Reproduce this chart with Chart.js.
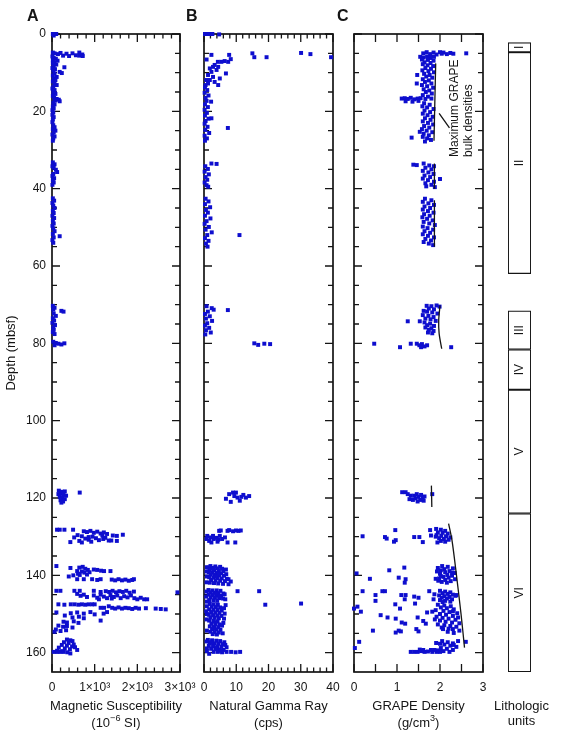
<!DOCTYPE html>
<html>
<head>
<meta charset="utf-8">
<script src="https://cdn.jsdelivr.net/npm/chart.js@4.4.0/dist/chart.umd.min.js"></script>
<style>
  body { margin: 0; background: #fff; }
  #wrap { position: relative; width: 562px; height: 738px; }
  #wrap canvas { position: absolute; left: 0; top: 0; }
</style>
</head>
<body>
<div id="wrap">
  <canvas id="chartA" width="562" height="738"></canvas>
  <canvas id="chartB" width="562" height="738"></canvas>
  <canvas id="chartC" width="562" height="738"></canvas>
  <canvas id="chartL" width="562" height="738"></canvas>
</div>
<script>
// ---- data: [depth (mbsf), value] ----
const magSus = [
  [0,20],[0,60],[0,100],[0.4,40],
  [4.8,20],[5.0,60],[5.2,140],[4.9,200],[5.6,260],[5.1,340],[5.7,400],[5.0,480],[5.5,560],[4.8,640],[5.6,640],[5.3,710],[5.7,720],
  [5.8,10],[6.2,40],[6.4,90],[6.8,20],[6.9,130],[7.3,60],[7.6,20],[7.9,100],[8.3,40],[8.6,290],[8.8,10],[9.1,70],[9.5,30],[9.8,180],[10.1,230],[10.2,60],[10.7,20],[11.1,110],[11.5,40],[11.9,80],[12.3,20],[12.8,60],[13.2,110],[13.6,30],[14.1,10],[14.5,60],[15.0,30],[15.5,80],[16.0,20],[16.5,50],[16.8,110],[17.0,160],[17.2,70],[17.4,180],[17.7,30],[18.2,60],[18.7,20],[19.2,40],[19.7,10],[20.3,30],[20.9,10],[21.5,40],[22.1,20],[22.8,10],[23.6,30],[24.1,60],[24.6,20],[25.0,80],[25.5,40],[26.0,10],[26.5,60],[27.0,30],[27.6,20],
  [33.2,20],[33.7,60],[34.2,10],[34.6,40],[35.1,90],[35.7,120],[36.2,30],[36.7,10],[37.3,50],[37.8,20],[38.4,40],[39.0,10],
  [42.5,20],[43.1,50],[43.7,10],[44.4,30],[45.0,60],[45.7,20],[46.3,40],[47.0,10],[47.6,50],[48.3,20],[49.0,40],[49.6,10],[50.3,30],[51.0,60],[51.7,20],[52.3,180],[52.6,40],[53.3,10],[54.0,30],
  [70.3,20],[70.8,60],[71.3,30],[71.6,220],[71.8,270],[72.3,40],[72.9,90],[73.5,20],[74.1,50],[74.7,10],[75.3,70],[75.9,30],[76.5,40],[77.1,20],[77.6,60],
  [79.6,30],[79.9,90],[80.1,150],[80.3,220],[80.0,290],[80.5,60],
  [118.1,160],[118.4,230],[118.3,300],[118.6,650],[118.9,200],[119.2,270],[119.4,330],[119.7,180],[120.0,240],[120.3,300],[120.6,200],[120.9,260],[121.2,220],[119.0,150],
  [128.2,118],[128.2,181],[128.2,291],[128.2,494],
  [128.6,745],[128.8,820],[128.5,900],[129.0,980],[128.7,1060],[129.2,1140],[128.9,1215],[129.3,1290],
  [129.6,600],[129.9,700],[130.2,520],[130.5,780],[130.8,860],[131.1,640],[131.4,430],[130.0,950],[130.4,1030],[130.9,1100],[131.3,920],[129.7,1180],[130.3,1250],[131.0,1330],[129.7,1425],[129.8,1520],[129.5,1660],[131.0,1390],[131.1,1520],[130.6,1200],[131.5,700],[130.1,860],
  [137.6,103],[138.1,432],[138.9,590],[138.0,640],[137.8,720],[138.3,780],[138.6,840],[139.0,700],[139.3,760],[139.6,610],[139.8,820],[139.2,880],[138.5,980],[138.6,1060],[138.8,1150],[138.9,1220],[138.9,1370],[140.3,393],[139.9,650],[140.0,500],
  [141.0,590],[141.0,745],[141.0,940],[141.2,1060],[141.0,1140],[141.1,1400],[141.3,1480],[141.0,1560],[141.3,1640],[141.1,1720],[141.4,1800],[141.2,1880],[141.0,1920],
  [144.0,103],[144.0,197],[144.0,525],[144.0,650],[144.0,980],[144.3,1140],[144.1,1260],[144.3,1340],[144.0,1420],[144.4,1500],[144.1,1580],[144.3,1660],[144.0,1740],[144.5,1820],[144.2,1920],[144.4,2940],
  [144.8,590],[145.3,670],[145.0,745],[145.6,820],[145.2,980],[145.8,1060],[145.0,1140],[145.5,1215],[145.9,1290],[145.1,1370],[145.6,1450],[145.2,1530],[145.9,1610],[145.4,1690],[145.7,1770],[145.2,1850],[145.9,1930],[146.2,2000],[145.8,2080],[146.2,2160],[146.2,2230],[146.0,1400],[146.2,1100],
  [147.5,150],[147.6,290],[147.5,440],[147.5,530],[147.6,620],[147.5,700],[147.6,780],[147.5,860],[147.5,940],[147.5,1000],[148.4,1140],[148.4,1220],[148.0,1330],[148.4,1410],[148.6,1480],[148.3,1560],[148.6,1640],[148.4,1720],[148.5,1800],[148.7,1880],[148.4,1960],[148.6,2040],[148.5,2200],[148.6,2430],[148.7,2550],[148.8,2665],
  [149.6,103],[149.5,1290],[149.9,1210],[150.4,300],[149.8,440],[149.6,590],[149.9,745],[149.5,900],[150.1,1000],[150.9,480],[150.7,630],[151.1,745],[151.7,1140],[152.0,270],[152.2,350],[151.9,510],[152.3,620],[153.0,150],[153.3,260],[153.1,350],[153.5,480],[154.0,90],[154.4,200],[154.2,330],[154.6,60],
  [156.6,350],[156.8,430],[157.0,480],[157.3,280],[157.5,390],[157.9,510],[158.0,230],[158.2,350],[158.4,470],[158.6,540],[158.7,160],[158.9,300],[159.1,420],[159.3,590],[159.5,120],[159.6,240],[159.8,40],[159.8,118],[159.8,197],[159.8,275],[159.9,360],[160.2,430]
];

const gammaRay = [
  [0,0.3],[0,1.0],[0,1.8],[0,2.6],[0.1,4.7],
  [5.4,2.3],[6.6,0.8],[5.4,7.8],[6.5,8.3],[7.2,7.5],[7.0,6.4],[7.2,5.4],[7.2,4.3],[5.0,15.0],[6.0,15.6],[6.0,19.4],[4.9,30.1],[5.2,33.0],[6.0,39.4],
  [8.0,3.3],[8.5,4.4],[8.5,2.8],[8.9,1.8],[9.3,3.9],[9.8,2.3],[10.2,6.8],[10.6,1.25],[11.1,2.8],[11.5,4.9],[11.9,0.7],[11.9,1.8],[12.4,3.3],[12.8,1.25],[13.2,4.4],[13.2,0.5],
  [13.8,0.3],[14.5,1.0],[15.2,0.2],[15.9,1.4],[16.5,0.5],[17.5,2.2],[17.3,0.8],[18.2,0.3],[18.9,1.2],[19.6,0.2],[20.4,0.9],[21.1,0.3],[21.8,2.3],[21.9,1.4],[22.5,0.5],[23.2,0.2],[24.3,7.4],[24.0,1.1],[24.8,0.4],[25.6,1.6],[26.3,0.2],[27.0,0.9],[27.6,0.3],
  [33.5,2.3],[33.6,3.9],[34.2,0.4],[34.9,1.2],[35.6,0.2],[36.3,1.5],[37.0,0.5],[37.7,1.0],[38.4,0.2],[39.1,0.8],[39.5,1.3],
  [42.6,0.5],[43.3,1.4],[44.0,0.3],[44.8,1.9],[45.5,0.6],[46.2,1.2],[47.0,0.3],[47.7,2.0],[48.4,0.8],[49.1,0.2],[49.9,1.5],[50.6,0.5],[51.3,2.4],[52.0,11.0],[52.0,1.0],[52.8,0.3],[53.5,1.4],[54.2,0.6],[55.0,1.1],
  [70.4,0.8],[70.9,2.4],[71.4,7.4],[71.3,3.0],[71.8,1.2],[72.4,0.3],[73.0,1.8],[73.6,0.6],[74.2,2.5],[74.8,1.0],[75.4,0.3],[76.0,1.6],[76.6,0.6],[77.2,2.1],[77.7,0.4],
  [80.0,15.6],[80.4,16.8],[80.1,18.7],[80.2,20.5],
  [119.0,7.8],[118.6,9.0],[118.6,9.9],[119.9,10.4],[120.7,11.1],[119.2,12.2],[119.9,13.0],[119.5,14.0],[120.2,6.8],[121.0,8.3],[119.5,9.4],[119.7,11.6],
  [128.5,4.7],[128.4,5.2],[128.5,7.3],[128.3,7.8],[128.6,9.0],[128.4,9.9],[128.5,10.7],[128.4,11.4],
  [129.8,1.0],[130.6,0.8],[130.2,2.0],[129.8,2.8],[130.6,3.0],[130.3,3.9],[129.8,4.9],[130.6,5.6],[130.2,6.5],[131.1,1.6],[131.5,2.3],[131.3,4.2],[131.5,7.3],[131.5,9.7],[130.8,4.4],
  [137.6,2.0],[137.7,3.5],[137.8,5.0],[138.0,1.4],[138.1,2.7],[138.2,4.2],[138.3,5.6],[138.6,1.8],[138.7,3.2],[138.8,4.6],[138.9,6.0],[139.2,1.5],[139.3,2.6],[139.4,3.9],[139.5,5.3],[139.8,2.1],[139.9,3.3],[140.0,4.7],[140.1,6.2],[140.5,1.6],[140.6,2.9],[140.7,4.2],[140.8,5.5],[140.9,7.1],[141.2,2.2],[141.3,3.6],[141.4,5.0],[141.5,6.5],[141.6,8.3],[141.9,1.8],[142.0,3.1],[142.1,4.4],[142.2,5.9],[142.3,7.6],
  [137.9,0.9],[138.5,6.8],[139.0,0.8],[139.7,6.9],[140.3,0.9],[141.0,7.6],[141.8,0.8],[139.6,4.5],[140.3,3.7],[138.4,3.0],
  [143.8,1.4],[143.9,2.6],[143.9,3.9],[144.0,5.1],[144.1,10.4],[144.1,17.1],[144.4,2.0],[144.5,3.2],[144.6,4.5],[144.7,6.0],[145.0,1.5],[145.1,2.7],[145.2,4.0],[145.3,5.3],[145.7,2.1],[145.8,3.4],[145.9,4.7],[146.0,5.9],[146.4,1.6],[146.5,2.9],[146.6,4.1],[147.3,30.1],[147.6,19.0],
  [144.2,0.8],[144.9,6.4],[145.5,0.7],[146.2,6.6],[146.8,0.9],[144.8,3.8],[145.5,4.8],
  [147.4,1.8],[147.5,3.0],[147.6,4.3],[147.7,6.7],[148.1,2.4],[148.2,3.7],[148.3,5.0],[148.8,1.6],[148.9,2.9],[149.0,4.2],[149.1,5.5],[149.5,2.2],[149.6,3.5],[149.7,4.8],[150.2,1.5],[150.3,2.8],[150.4,4.1],[150.5,5.4],[150.9,2.0],[151.0,3.3],[151.1,4.6],[151.2,6.2],[151.7,1.6],[151.8,2.9],[151.9,4.2],[152.5,2.3],[152.6,3.6],[152.7,4.9],[153.2,1.8],[153.3,3.1],[153.4,4.4],[153.9,2.5],[154.0,3.8],[154.1,5.1],[154.6,2.0],[154.7,3.3],[154.8,4.6],[155.2,2.7],[155.3,4.0],[150.0,0.9],[148.5,6.2],
  [148.0,0.9],[149.3,0.7],[151.4,0.8],[152.3,6.0],[153.0,5.6],[154.3,0.9],[155.0,5.8],[149.9,6.4],[152.1,3.5],[153.7,3.0],
  [156.7,1.2],[156.8,2.5],[156.9,3.8],[157.0,5.0],[157.3,6.3],[157.5,1.8],[157.6,3.1],[157.7,4.4],[157.8,5.7],[158.2,1.5],[158.3,2.8],[158.4,4.1],[158.5,5.4],[158.6,7.0],[159.0,2.2],[159.1,3.5],[159.2,4.8],[159.3,6.1],[159.8,3.0],[159.8,4.3],[159.9,5.6],[159.8,7.0],[159.8,8.4],[159.9,9.8],[159.8,11.2],[160.3,1.6],[159.6,0.9],
  [157.1,0.8],[158.0,6.6],[158.9,0.9],[157.3,2.2],[158.8,3.9],[159.5,5.2]
];

const grapeDensity = [
  [5.0,1.61],[4.7,1.69],[5.2,1.77],[4.8,1.85],[5.3,1.92],[4.7,2.0],[5.1,2.04],[4.8,2.08],[5.2,2.16],[4.9,2.24],[5.1,2.31],[5.0,2.61],[5.9,1.54],[6.1,1.62],[5.8,1.7],[6.2,1.78],[5.9,1.86],
  [6.6,1.58],[6.7,1.72],[6.9,1.85],[7.3,1.64],[7.5,1.78],[7.8,1.6],[8.1,1.71],[8.3,1.84],[8.8,1.66],[9.0,1.79],[9.4,1.59],[9.6,1.73],[9.9,1.86],[10.3,1.63],[10.6,1.47],[10.6,1.76],[11.0,1.68],[11.3,1.82],[11.7,1.6],[12.0,1.74],[12.4,1.65],[12.8,1.46],[12.8,1.8],[13.2,1.58],[13.5,1.7],[13.9,1.84],[14.3,1.62],[14.6,1.75],[15.0,1.67],[15.4,1.81],[15.8,1.6],[16.2,1.72],
  [16.7,1.11],[16.6,1.18],[16.8,1.25],[16.5,1.32],[16.9,1.4],[16.7,1.48],[16.6,1.55],[16.8,1.66],[16.7,1.8],[17.4,1.2],[17.5,1.36],[17.3,1.5],
  [17.9,1.63],[18.3,1.76],[18.7,1.59],[19.0,1.7],[19.4,1.85],[19.8,1.64],[20.2,1.77],[20.6,1.6],[21.0,1.71],[21.4,1.83],[21.8,1.65],[22.2,1.78],[22.6,1.6],[23.0,1.72],[23.4,1.84],[23.8,1.63],[24.2,1.75],[24.6,1.58],[25.0,1.69],[25.3,1.53],[25.4,1.82],[25.8,1.62],[26.2,1.74],[26.6,1.6],[26.8,1.34],[27.0,1.7],[27.4,1.79],[27.8,1.65],
  [33.5,1.62],[33.8,1.38],[33.9,1.46],[34.0,1.75],[34.2,1.86],[34.6,1.66],[35.0,1.8],[35.4,1.6],[35.8,1.73],[36.2,1.85],[36.6,1.64],[37.0,1.77],[37.5,2.0],[37.4,1.6],[37.8,1.72],[38.2,1.86],[38.6,1.66],[39.0,1.8],[39.4,1.68],[39.6,1.88],
  [42.6,1.65],[43.0,1.8],[43.4,1.6],[43.8,1.73],[44.2,1.86],[44.6,1.64],[45.0,1.77],[45.4,1.6],[45.8,1.72],[46.2,1.85],[46.6,1.63],[47.0,1.76],[47.4,1.59],[47.8,1.7],[48.2,1.83],[48.6,1.62],[49.0,1.75],[49.4,1.88],[49.8,1.6],[50.2,1.71],[50.6,1.84],[51.0,1.64],[51.4,1.77],[51.8,1.6],[52.2,1.72],[52.6,1.86],[53.0,1.66],[53.4,1.79],[53.8,1.62],[54.2,1.74],[54.6,1.84],
  [70.3,1.69],[70.4,1.8],[70.2,1.92],[70.5,1.99],[71.0,1.74],[71.2,1.86],[71.6,1.62],[71.8,1.7],[72.0,1.82],[72.3,1.94],[72.7,1.6],[72.9,1.73],[73.2,1.85],[73.6,1.66],[73.8,1.78],[74.3,1.25],[74.3,1.53],[74.2,1.9],[74.6,1.64],[74.9,1.77],[75.3,1.7],[75.5,1.86],[75.9,1.66],[76.1,1.8],[76.5,1.74],[76.8,1.85],[77.2,1.72],[77.4,1.82],
  [80.1,0.47],[81.0,1.07],[80.1,1.32],[80.1,1.46],[80.5,1.52],[80.2,1.58],[80.8,1.64],[80.5,1.7],[81.0,1.56],[81.0,2.26],
  [118.5,1.12],[118.5,1.2],[119.0,1.25],[119.4,1.32],[120.3,1.29],[120.5,1.37],[119.4,1.4],[119.0,1.46],[119.7,1.5],[119.2,1.56],[119.9,1.6],[120.5,1.54],[120.7,1.62],[120.1,1.43],[119.0,1.82],[119.6,1.64],[120.9,1.48],
  [128.3,0.96],[129.9,0.2],[130.1,0.72],[130.5,0.76],[130.9,0.97],[131.3,0.93],[130.1,1.4],[130.1,1.52],[131.4,1.6],[128.3,1.77],[129.7,1.79],
  [128.0,1.91],[128.2,2.02],[128.5,2.12],[128.9,1.95],[129.0,2.06],[129.2,2.18],[129.6,1.92],[129.8,2.03],[129.9,2.14],[130.2,2.24],[130.4,1.98],[130.6,2.09],[130.8,2.2],[131.1,2.02],[131.3,2.12],[131.5,1.94],[130.0,1.9],
  [138.7,0.82],[138.0,1.17],[139.5,0.06],[140.9,0.37],[140.6,1.04],[141.0,1.2],[141.9,1.18],[138.1,1.95],
  [137.6,2.05],[137.8,2.18],[138.2,2.3],[138.4,2.1],[138.7,2.02],[138.9,2.22],[139.2,2.12],[139.4,2.34],[139.6,2.0],[139.9,2.17],[140.1,2.28],[140.4,2.08],[140.6,2.2],[140.8,1.98],[141.0,2.35],[141.2,2.12],[141.5,2.25],[141.7,2.04],[141.9,2.16],[139.0,1.93],[140.9,1.9],
  [139.3,2.28],[140.2,2.02],[141.4,1.96],
  [144.1,0.2],[145.1,0.5],[146.6,0.5],[144.1,0.66],[144.1,0.72],[145.1,1.1],[145.1,1.2],[146.2,1.18],[145.5,1.4],[145.8,1.5],[147.3,1.42],[144.1,1.75],[144.9,1.87],[146.2,1.85],[145.1,2.38],
  [144.0,2.0],[144.2,2.12],[144.4,2.24],[144.6,2.06],[144.8,2.18],[145.0,2.3],[145.2,1.98],[145.4,2.1],[145.6,2.22],[145.8,2.04],[146.0,2.16],[146.2,2.28],[146.4,2.0],[146.6,2.12],[146.8,2.24],
  [145.3,2.36],[146.9,2.06],
  [148.6,0.0],[148.1,0.08],[149.4,0.16],[150.3,0.62],[150.9,0.78],[147.5,0.96],[148.6,1.07],[151.2,0.97],[152.2,1.11],[152.5,1.19],[150.9,1.48],[151.8,1.61],[152.5,1.67],[149.6,1.7],[149.4,1.82],
  [147.6,1.95],[147.8,2.1],[148.0,2.25],[148.3,2.02],[148.5,2.16],[148.8,2.32],[149.0,1.9],[149.2,2.08],[149.5,2.22],[149.8,2.4],[150.0,2.0],[150.2,2.14],[150.5,2.3],[150.7,1.92],[151.0,2.06],[151.2,2.2],[151.5,2.36],[151.7,2.0],[152.0,2.13],[152.2,2.28],[152.4,2.45],[152.7,1.95],[152.9,2.1],[153.1,2.24],[153.3,2.38],[153.5,2.04],[151.4,1.88],
  [149.3,2.3],[150.9,2.42],[153.8,2.2],
  [154.3,0.44],[154.8,0.97],[154.3,1.04],[154.5,1.09],[153.9,1.45],[154.5,1.5],[153.9,2.07],[153.9,2.3],[154.3,2.45],[154.6,2.18],[154.9,2.32],
  [157.2,0.12],[158.8,0.02],[157.5,1.91],[157.0,2.42],[157.2,2.6],
  [157.0,2.05],[157.3,2.18],[157.6,2.3],[157.9,2.1],[158.2,2.24],[158.5,2.38],[158.8,2.02],[159.0,2.16],[159.3,2.3],[159.6,2.08],[159.8,2.22],[159.4,1.95],
  [158.0,2.32],[157.7,2.0],
  [159.8,1.32],[159.8,1.4],[159.8,1.48],[159.6,1.56],[159.8,1.64],[159.7,1.72],[159.8,1.82],[159.8,1.92],[159.8,2.0],[159.2,1.53],[159.3,1.61],[159.3,1.79],[159.3,1.87]
];

// maximum GRAPE bulk density trend lines [depth, density]
const maxGrape1 = [[7.6,1.90],[17.5,1.88],[27.6,1.86]];
const maxGrape2 = [[33.5,1.87],[40.0,1.87]];
const maxGrape3 = [[43.0,1.87],[55.0,1.87]];
const maxGrape4 = [[70.2,2.0],[74.1,1.97],[77.5,1.98],[81.4,2.04]];
const maxGrape5 = [[116.8,1.80],[122.3,1.81]];
const maxGrape6 = [[126.6,2.2],[131.0,2.28],[139.7,2.38],[150.1,2.49],[158.7,2.57]];
const leaderLine = [[20.5,1.98],[24.3,2.22]];

// ticks
const depthTicks = [0,20,40,60,80,100,120,140,160];
const depthMinor = [0,5,10,15,20,25,30,35,40,45,50,55,60,65,70,75,80,85,90,95,100,105,110,115,120,125,130,135,140,145,150,155,160];
const magTicks = [0,1000,2000,3000];
const magMinor = [0,200,400,600,800,1000,1200,1400,1600,1800,2000,2200,2400,2600,2800,3000];
const gammaTicks = [0,10,20,30,40];
const gammaMinor = [0,2,4,6,8,10,12,14,16,18,20,22,24,26,28,30,32,34,36,38,40];
const grapeTicks = [0,1,2,3];
const grapeMinor = [0,0.5,1,1.5,2,2.5,3];

// lithologic units
const lithUnits = ['I','II','III','IV','V','VI'];
const lithTop = [2.2,4.7,71.6,81.6,92.0,124.0];
const lithBase = [4.7,62.0,81.6,92.0,124.0,165];

const BLUE = 'rgb(14,14,206)';
const INK = '#151515';
const FONT = "'Liberation Sans', Arial, Helvetica, sans-serif";
Chart.defaults.font.family = FONT;
Chart.defaults.color = INK;

function drawRich(ctx, parts, cx, cy, size) {
  let w = 0;
  parts.forEach(([t, sup]) => { ctx.font = (sup ? size * 0.7 : size) + 'px ' + FONT; w += ctx.measureText(t).width; });
  let x = cx - w / 2;
  ctx.textAlign = 'left';
  ctx.textBaseline = 'middle';
  parts.forEach(([t, sup]) => {
    ctx.font = (sup ? size * 0.7 : size) + 'px ' + FONT;
    ctx.fillText(t, x, sup ? cy - size * 0.38 : cy);
    x += ctx.measureText(t).width;
  });
}

function decor(cfg) {
  return {
    id: 'decor',
    beforeDatasetsDraw(chart) {
      const {ctx, chartArea: a, scales: {x, y}} = chart;
      ctx.save();
      ctx.strokeStyle = INK;
      ctx.lineWidth = 1.3;
      ctx.beginPath();
      depthMinor.forEach(d => {
        const py = y.getPixelForValue(d);
        const len = depthTicks.includes(d) ? 8 : 5;
        ctx.moveTo(a.left, py); ctx.lineTo(a.left + len, py);
        ctx.moveTo(a.right, py); ctx.lineTo(a.right - len, py);
      });
      cfg.minor.forEach(v => {
        const px = x.getPixelForValue(v);
        const len = (cfg.allMajor || cfg.ticks.includes(v)) ? 8 : 4.5;
        ctx.moveTo(px, a.top); ctx.lineTo(px, a.top + len);
        ctx.moveTo(px, a.bottom); ctx.lineTo(px, a.bottom - len);
      });
      ctx.stroke();
      ctx.lineWidth = 1.7;
      ctx.strokeRect(a.left, a.top, a.right - a.left, a.bottom - a.top);
      ctx.restore();
    },
    afterDraw(chart) {
      const {ctx, chartArea: a, scales: {x, y}} = chart;
      ctx.save();
      ctx.fillStyle = INK;
      ctx.font = 'bold 16px ' + FONT;
      ctx.textAlign = 'left';
      ctx.textBaseline = 'middle';
      ctx.fillText(cfg.tag, a.left + cfg.tagDx, 17);
      cfg.title.forEach((parts, i) => drawRich(ctx, parts, (a.left + a.right) / 2, 706 + i * 17, 13));
      if (cfg.note) {
        ctx.font = '12px ' + FONT;
        ctx.textAlign = 'left';
        ctx.textBaseline = 'middle';
        cfg.note.forEach(([text, v, d]) => {
          ctx.save();
          ctx.translate(x.getPixelForValue(v), y.getPixelForValue(d));
          ctx.rotate(-Math.PI / 2);
          ctx.fillText(text, 0, 0);
          ctx.restore();
        });
      }
      ctx.restore();
    }
  };
}

function makePanel(canvasId, cfg) {
  const datasets = [{
    data: cfg.points.map(([d, v]) => ({x: v, y: d})),
    pointStyle: 'rect',
    pointRadius: 2.8,
    pointBorderWidth: 0,
    borderWidth: 0,
    backgroundColor: BLUE,
    borderColor: BLUE,
    clip: 5,
    order: 1
  }];
  (cfg.lines || []).forEach(seg => datasets.push({
    data: seg.map(([d, v]) => ({x: v, y: d})),
    showLine: true,
    pointRadius: 0,
    borderColor: INK,
    borderWidth: 1.3,
    tension: 0.3,
    clip: 5,
    order: 0
  }));
  return new Chart(document.getElementById(canvasId), {
    type: 'scatter',
    data: {datasets},
    options: {
      responsive: false,
      animation: false,
      events: [],
      layout: {padding: {left: cfg.left, right: 562 - cfg.right, top: 34, bottom: 6}},
      plugins: {legend: {display: false}, tooltip: {enabled: false}},
      scales: {
        x: {
          type: 'linear', min: cfg.min, max: cfg.max,
          afterFit: s => { s.height = 60; },
          afterBuildTicks: s => { s.ticks = cfg.ticks.map(v => ({value: v})); },
          grid: {display: false, drawTicks: false},
          border: {display: false},
          ticks: {font: {size: 12}, padding: 8, autoSkip: false, maxRotation: 0, minRotation: 0, color: INK, callback: cfg.fmt}
        },
        y: {
          type: 'linear', reverse: true, min: 0, max: 165,
          display: !!cfg.depthAxis,
          afterFit: s => { if (cfg.depthAxis) s.width = 52; },
          afterBuildTicks: s => { s.ticks = depthTicks.map(v => ({value: v})); },
          grid: {display: false, drawTicks: false},
          border: {display: false},
          ticks: {font: {size: 12}, padding: 6, color: INK},
          title: {display: true, text: 'Depth (mbsf)', font: {size: 13}, color: INK}
        }
      }
    },
    plugins: [decor(cfg)]
  });
}

makePanel('chartA', {
  points: magSus, min: 0, max: 3000, ticks: magTicks, minor: magMinor,
  left: 0, right: 180, depthAxis: true, tag: 'A', tagDx: -25,
  fmt: v => v === 0 ? '0' : (v / 1000) + '×10³',
  title: [[['Magnetic Susceptibility', 0]], [['(10', 0], ['−6', 1], [' SI)', 0]]]
});

makePanel('chartB', {
  points: gammaRay, min: 0, max: 40, ticks: gammaTicks, minor: gammaMinor,
  left: 204, right: 333, tag: 'B', tagDx: -18,
  fmt: v => String(v),
  title: [[['Natural Gamma Ray', 0]], [['(cps)', 0]]]
});

makePanel('chartC', {
  points: grapeDensity, min: 0, max: 3, ticks: grapeTicks, minor: grapeMinor, allMajor: true,
  left: 354, right: 483, tag: 'C', tagDx: -17,
  fmt: v => String(v),
  lines: [maxGrape1, maxGrape2, maxGrape3, maxGrape4, maxGrape5, maxGrape6, leaderLine],
  note: [['Maximum GRAPE', 2.35, 31.8], ['bulk densities', 2.66, 31.8]],
  title: [[['GRAPE Density', 0]], [['(g/cm', 0], ['3', 1], [')', 0]]]
});

// lithologic column as floating bars
const unitLabels = {
  id: 'unitLabels',
  afterDatasetsDraw(chart) {
    const {ctx, chartArea: a} = chart;
    ctx.save();
    ctx.fillStyle = INK;
    ctx.font = '12px ' + FONT;
    ctx.textAlign = 'center';
    ctx.textBaseline = 'middle';
    chart.data.datasets.forEach((ds, i) => {
      const el = chart.getDatasetMeta(i).data[0];
      ctx.save();
      ctx.translate(el.x, (el.y + el.base) / 2);
      ctx.rotate(-Math.PI / 2);
      ctx.fillText(ds.label, 0, 0);
      ctx.restore();
    });
    drawRich(ctx, [['Lithologic', 0]], (a.left + a.right) / 2 + 2, 706, 13);
    drawRich(ctx, [['units', 0]], (a.left + a.right) / 2 + 2, 721, 13);
    ctx.restore();
  }
};

new Chart(document.getElementById('chartL'), {
  type: 'bar',
  data: {
    labels: ['units'],
    datasets: lithUnits.map((u, i) => ({
      label: u,
      data: [[lithTop[i], lithBase[i]]],
      backgroundColor: '#fff',
      borderColor: INK,
      borderWidth: 1.3,
      borderSkipped: false,
      grouped: false,
      barPercentage: 1,
      categoryPercentage: 1
    }))
  },
  options: {
    responsive: false,
    animation: false,
    events: [],
    layout: {padding: {left: 508, right: 31, top: 34, bottom: 66}},
    plugins: {legend: {display: false}, tooltip: {enabled: false}},
    scales: {
      x: {display: false},
      y: {display: false, reverse: true, min: 0, max: 165}
    }
  },
  plugins: [unitLabels]
});
</script>
</body>
</html>
